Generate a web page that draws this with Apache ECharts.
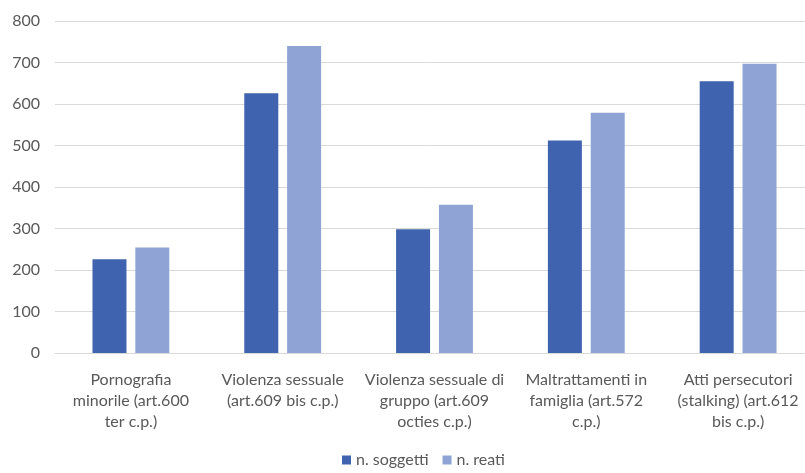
<!DOCTYPE html>
<html><head><meta charset="utf-8">
<script src="https://cdn.jsdelivr.net/npm/echarts@6/dist/echarts.min.js"></script>
<style>html,body{margin:0;padding:0;background:#fff}#c{width:805px;height:473px}</style>
</head><body><div id="c"></div>
<script>
const categories = [
  "Pornografia\nminorile (art.600\nter c.p.)",
  "Violenza sessuale\n(art.609 bis c.p.)",
  "Violenza sessuale di\ngruppo (art.609\nocties c.p.)",
  "Maltrattamenti in\nfamiglia (art.572\nc.p.)",
  "Atti persecutori\n(stalking) (art.612\nbis c.p.)"
];
const soggetti = [226, 626, 298, 512, 655];
const reati = [254, 740, 357, 579, 697];
const yTicks = [0, 800, 100];

const chart = echarts.init(document.getElementById('c'));
const font = 'Lato, "Open Sans", sans-serif';
chart.setOption({
  animation: false,
  textStyle: {fontFamily: font},
  grid: {left: 55, right: -9, top: 21, bottom: 120, outerBoundsMode: 'none', containLabel: false},
  legend: {
    bottom: 0, left: 337, itemWidth: 9, itemHeight: 9, itemGap: 14,
    icon: 'rect',
    textStyle: {color: '#595959', fontSize: 16, fontFamily: font},
    data: ['n. soggetti', 'n. reati']
  },
  xAxis: {
    type: 'category', data: categories,
    axisLine: {lineStyle: {color: '#D9D9D9'}},
    axisTick: {show: false},
    axisLabel: {color: '#595959', fontSize: 16, lineHeight: 21, margin: 16, interval: 0, fontFamily: font}
  },
  yAxis: {
    type: 'value', min: yTicks[0], max: yTicks[1], interval: yTicks[2],
    axisLine: {show: false}, axisTick: {show: false},
    splitLine: {lineStyle: {color: '#D9D9D9'}},
    axisLabel: {color: '#595959', fontSize: 16, margin: 15, fontFamily: font}
  },
  series: [
    {name: 'n. soggetti', type: 'bar', data: soggetti, barWidth: 34, barGap: '26%', itemStyle: {color: '#3F63AE'}},
    {name: 'n. reati', type: 'bar', data: reati, barWidth: 34, itemStyle: {color: '#8FA3D4'}}
  ]
});
</script></body></html>
